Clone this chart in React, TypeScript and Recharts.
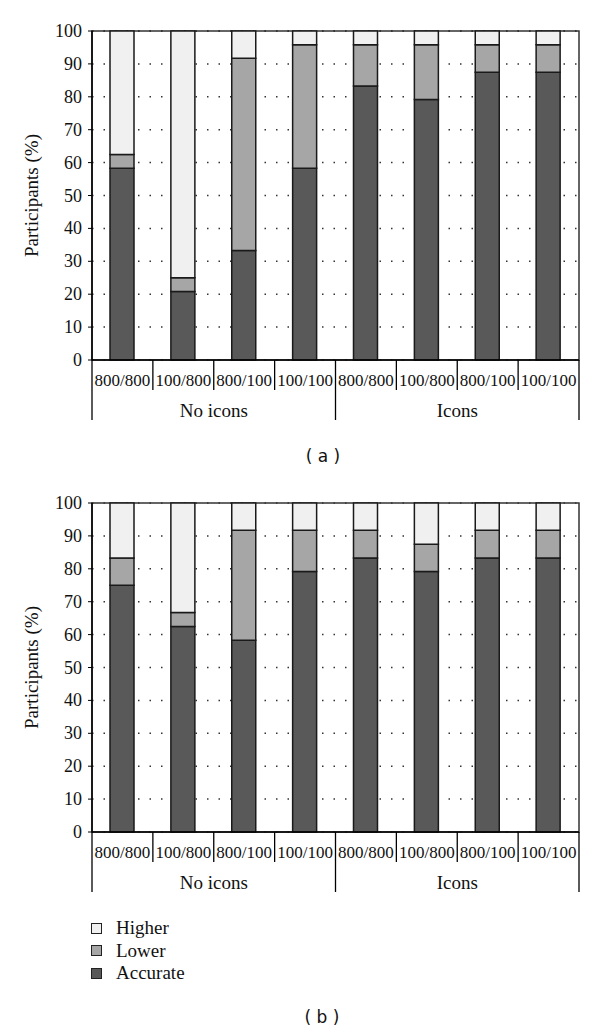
import React from "react";
import {
  BarChart,
  Bar,
  XAxis,
  YAxis,
  CartesianGrid,
  ReferenceArea,
  Label,
} from "recharts";

const categories = ["800/800", "100/800", "800/100", "100/100", "800/800", "100/800", "800/100", "100/100"];
const groups = ["No icons", "No icons", "No icons", "No icons", "Icons", "Icons", "Icons", "Icons"];
const yTicks = [0, 10, 20, 30, 40, 50, 60, 70, 80, 90, 100];

// panel (a)
const accurateA = [58.3, 20.8, 33.3, 58.3, 83.3, 79.2, 87.5, 87.5];
const lowerA = [4.2, 4.2, 58.4, 37.5, 12.5, 16.6, 8.3, 8.3];
const higherA = [37.5, 75, 8.3, 4.2, 4.2, 4.2, 4.2, 4.2];

// panel (b)
const accurateB = [75, 62.5, 58.3, 79.2, 83.3, 79.2, 83.3, 83.3];
const lowerB = [8.3, 4.2, 33.4, 12.5, 8.4, 8.3, 8.4, 8.4];
const higherB = [16.7, 33.3, 8.3, 8.3, 8.3, 12.5, 8.3, 8.3];

const SERIES = [
  { key: "accurate", name: "Accurate", color: "#595959" },
  { key: "lower", name: "Lower", color: "#a6a6a6" },
  { key: "higher", name: "Higher", color: "#f0f0f0" },
];

const W = 600;
const H = 420;
const M = { top: 31, right: 21, left: 0, bottom: 0 };
const Y_W = 92;
const X_H = 60;
const BAND = (W - Y_W - M.right) / categories.length;
const SERIF = "'Liberation Serif', serif";

function build(acc: number[], low: number[], high: number[]) {
  return categories.map((c, i) => ({
    cat: c,
    group: groups[i],
    accurate: acc[i],
    lower: low[i],
    higher: high[i],
  }));
}

function CatTick(props: any) {
  const { x, y, payload, index } = props;
  const half = BAND / 2;
  const left = x - half;
  return (
    <g>
      <line x1={left} x2={left} y1={y} y2={y + (index % 4 === 0 ? X_H : 30)} stroke="#000" strokeWidth={1.3} />
      {index === categories.length - 1 && (
        <line x1={x + half} x2={x + half} y1={y} y2={y + X_H} stroke="#000" strokeWidth={1.3} />
      )}
      <text className="serif-t" x={x} y={y + 26} textAnchor="middle" fontSize={17} fill="#111">
        {payload.value}
      </text>
      {index % 4 === 1 && (
        <text className="serif-t" x={x + half} y={y + 57} textAnchor="middle" fontSize={19} fill="#111">
          {groups[index]}
        </text>
      )}
    </g>
  );
}

function YTick(props: any) {
  const { x, y, payload } = props;
  return (
    <text className="serif-t" x={x} y={y + 6} textAnchor="end" fontSize={18} fill="#111">
      {payload.value}
    </text>
  );
}

function Panel({ data }: { data: any[] }) {
  return (
    <BarChart width={W} height={H} data={data} margin={M} barSize={24}>
      <CartesianGrid vertical={false} stroke="#333" strokeWidth={1.5} strokeDasharray="1.5 10" />
      <XAxis
        dataKey="cat"
        height={X_H}
        interval={0}
        tickLine={false}
        tickSize={0}
        tickMargin={0}
        axisLine={{ stroke: "#000", strokeWidth: 1.5 }}
        tick={<CatTick />}
      />
      <YAxis
        width={Y_W}
        domain={[0, 100]}
        ticks={yTicks}
        interval={0}
        tickSize={4}
        tickMargin={6}
        tickLine={{ stroke: "#000" }}
        axisLine={{ stroke: "#000", strokeWidth: 1.5 }}
        tick={<YTick />}
      >
        <Label
          content={({ viewBox }: any) => {
            const cy = viewBox.y + viewBox.height / 2;
            return (
              <text
                className="serif-t"
                x={38}
                y={cy}
                transform={`rotate(-90 38 ${cy})`}
                textAnchor="middle"
                fontSize={19}
                fill="#111"
              >
                Participants (%)
              </text>
            );
          }}
        />
      </YAxis>
      {SERIES.map((s) => (
        <Bar
          key={s.key}
          dataKey={s.key}
          name={s.name}
          stackId="a"
          fill={s.color}
          stroke="#1a1a1a"
          strokeWidth={1.5}
          isAnimationActive={false}
        />
      ))}
      <ReferenceArea y1={0} y2={100} fill="none" stroke="#333" strokeWidth={1.5} />
    </BarChart>
  );
}

const capStyle: React.CSSProperties = {
  position: "absolute",
  width: 80,
  textAlign: "center",
  fontFamily: "'DejaVu Sans', sans-serif",
  fontSize: 17,
  whiteSpace: "pre",
  color: "#111",
};

export default function App() {
  const dataA = build(accurateA, lowerA, higherA);
  const dataB = build(accurateB, lowerB, higherB);
  const legendItems = [...SERIES].reverse();
  return (
    <div style={{ position: "absolute", left: 0, top: 0, width: W, height: 1035, background: "#fff" }}>
      <style>{`svg text.serif-t, .recharts-wrapper svg text { font-family: 'Liberation Serif', serif !important; }`}</style>
      <div style={{ position: "absolute", left: 0, top: 0 }}>
        <Panel data={dataA} />
      </div>
      <div style={{ ...capStyle, left: 283, top: 446 }}>( a )</div>
      <div style={{ position: "absolute", left: 0, top: 472 }}>
        <Panel data={dataB} />
      </div>
      <div style={{ position: "absolute", left: 91, top: 917 }}>
        {legendItems.map((s) => (
          <div key={s.key} style={{ display: "flex", alignItems: "center", height: 22.5 }}>
            <span
              style={{
                display: "inline-block",
                width: 9,
                height: 9,
                background: s.color,
                border: "1.5px solid #222",
                marginRight: 14,
              }}
            />
            <span style={{ fontFamily: SERIF, fontSize: 19, color: "#111" }}>{s.name}</span>
          </div>
        ))}
      </div>
      <div style={{ ...capStyle, left: 282, top: 1007 }}>( b )</div>
    </div>
  );
}
